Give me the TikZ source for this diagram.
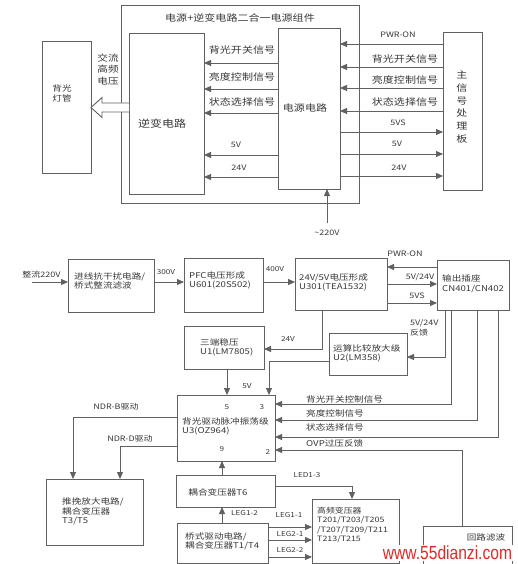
\documentclass[tikz,border=0pt]{standalone}
\usepackage{fontspec}
\setmainfont{Noto Sans CJK SC}[FakeStretch=1.2]
\newfontfamily\wmfont{Liberation Sans}
\usetikzlibrary{arrows.meta,fit}
\definecolor{lc}{gray}{0.38}
\definecolor{tc}{gray}{0.22}
\definecolor{wm}{RGB}{225,40,40}
\tikzset{
  box/.style={draw=lc, line width=0.9pt, inner sep=0pt, outer sep=0pt},
  ln/.style={draw=lc, line width=0.9pt},
  arr/.style={ln, -{Triangle[length=7pt,width=6pt]}},
  big/.style={text=tc, inner sep=0pt, font=\fontsize{9.2}{12}\selectfont},
  lat/.style={text=tc, inner sep=0pt, font=\fontsize{7.5}{9}\selectfont},
  sml/.style={text=tc, inner sep=0pt, font=\fontsize{8}{9.5}\selectfont, align=left},
  tiny/.style={text=tc, inner sep=0pt, font=\fontsize{6.8}{8}\selectfont},
}
\begin{document}
\begin{tikzpicture}[x=1pt,y=-1pt]
\useasboundingbox[fill=white] (0,0) rectangle (517,564);

% ---------------- top diagram ----------------
\node[box, fit={(121,5) (359,203)}] (outer) {};
\node[box, fit={(42,41) (91,173)}] (lamp) {};
\node[box, fit={(129,33) (204,194)}] (inv) {};
\node[box, fit={(278,28) (340,189)}] (pw) {};
\node[box, fit={(443,32) (482,190)}] (mb) {};

\node[big] (title) at (240,18) {电源+逆变电路二合一电源组件};
\node[text=tc, inner sep=0pt, align=center, font=\fontsize{8}{10}\selectfont] (lampT) at (62,93.5) {背光\\灯管};
\node[text=tc, inner sep=0pt, align=center, font=\fontsize{8.8}{11.7}\selectfont] (acT) at (108,69.5) {交流\\高频\\电压};
\node[text=tc, inner sep=0pt, font=\fontsize{10}{12}\selectfont] (invT) at (162,124) {逆变电路};
\node[big] (pwT) at (305,108) {电源电路};
\node[big, align=center, font=\fontsize{9.2}{12.8}\selectfont] (mbT) at (462,107) {主\\信\\号\\处\\理\\板};

% left signals
\node[big] (lA) at (242,50) {背光开关信号};
\node[big] (lB) at (242,77) {亮度控制信号};
\node[big] (lC) at (242,102) {状态选择信号};
\node[lat] (lD) at (236,145) {5V};
\node[lat] (lE) at (239,168) {24V};
\foreach \yy in {63,89,113,155,177}
  \draw[arr] (pw.west |- 0,\yy) -- (inv.east |- 0,\yy);

% right signals
\node[lat] (rA) at (398,35) {PWR-ON};
\node[big] (rB) at (405,59) {背光开关信号};
\node[big] (rC) at (405,80) {亮度控制信号};
\node[big] (rD) at (405,102) {状态选择信号};
\node[lat] (rE) at (398,123) {5VS};
\node[lat] (rF) at (397,144) {5V};
\node[lat] (rG) at (399,168) {24V};
\foreach \yy in {44,67,88,111}
  \draw[arr] (mb.west |- 0,\yy) -- (pw.east |- 0,\yy);
\foreach \yy in {132,154,176}
  \draw[arr] (pw.east |- 0,\yy) -- (mb.west |- 0,\yy);

\coordinate (ac) at (327,223);
\draw[arr] (ac) -- (pw.south -| ac);
\node[lat] (acL) at (327,233) {\textasciitilde 220V};

% hollow arrow to lamp
\draw[ln, fill=white, line join=miter] (inv.west |- 0,103) -- (102,103) -- (102,97.5)
  -- (lamp.east |- 0,107.5) -- (102,117.5) -- (102,112) -- (inv.west |- 0,112);

% ---------------- bottom diagram ----------------
\node[box, fit={(68,259) (154,312)}] (b1) {};
\node[box, fit={(184,258) (263,312)}] (pfc) {};
\node[box, fit={(295,258) (387,310)}] (b24) {};
\node[box, fit={(437,260) (509,310)}] (sock) {};
\node[box, fit={(184,326) (264,369)}] (reg) {};
\node[box, fit={(329,333) (407,375)}] (opa) {};
\node[box, fit={(177,395) (275,461)}] (drv) {};
\node[box, fit={(176,475) (275,507)}] (t6) {};
\node[box, fit={(177,523) (268,563)}] (bri) {};
\node[box, fit={(312,499) (399,563)}] (hf) {};
\node[box, fit={(46,479) (143,545)}] (push) {};
\node[box, fit={(423,526) (512,580)}] (loop) {};

% box texts
\node[sml, anchor=west] (b1T) at (74,281) {进线抗干扰电路/\\桥式整流滤波};
\node[sml, anchor=west] (pfcT) at (189,280.5) {PFC电压形成\\U601(20S502)};
\node[sml, anchor=west] (b24T) at (299,282.5) {24V/5V电压形成\\U301(TEA1532)};
\node[sml, anchor=west] (sockT) at (442,284) {输出插座\\CN401/CN402};
\node[sml, anchor=west] (regT) at (200,347.5) {三端稳压\\U1(LM7805)};
\node[sml, anchor=west] (opaT) at (333,353.5) {运算比较放大级\\U2(LM358)};
\node[sml, anchor=west] (drvT) at (182,426.5) {背光驱动脉冲振荡级\\U3(OZ964)};
\node[tiny] (p5) at (227,407) {5};
\node[tiny] (p3) at (262,407) {3};
\node[tiny] (p9) at (222,449) {9};
\node[tiny] (p2) at (268,452) {2};
\node[sml] (t6T) at (218,492) {耦合变压器T6};
\node[sml, anchor=west] (briT) at (185,541.5) {桥式驱动电路/\\耦合变压器T1/T4};
\node[sml, anchor=west, font=\fontsize{7.4}{9.4}\selectfont] (hfT) at (317,525) {高频变压器\\T201/T203/T205\\/T207/T209/T211\\T213/T215};
\node[sml, anchor=west] (pushT) at (62,511.5) {推挽放大电路/\\耦合变压器\\T3/T5};
\node[sml] (loopT) at (486,537) {回路滤波};

% input chain
\coordinate (in) at (32,282);
\node[lat] (inL) at (41.5,275) {整流220V};
\draw[arr] (in) -- (b1.west |- in);
\draw[arr] (b1.east |- 0,282) -- (pfc.west |- 0,282);
\node[tiny] (v300) at (166,272) {300V};
\draw[arr] (pfc.east |- 0,282) -- (b24.west |- 0,282);
\node[tiny] (v400) at (275,269) {400V};

% 24V box <-> socket
\draw[arr] (sock.west |- 0,267) -- (b24.east |- 0,267);
\node[lat] (pwrL) at (405,254) {PWR-ON};
\draw[arr] (b24.east |- 0,284) -- (sock.west |- 0,284);
\node[lat] (v524L) at (420,277) {5V/24V};
\draw[arr] (b24.east |- 0,303) -- (sock.west |- 0,303);
\node[lat] (v5vsL) at (417,296) {5VS};

% 24V to regulator
\draw[arr] (b24.south -| 322,0) |- (reg.east |- 0,349);
\node[tiny] (v24L) at (288,339) {24V};
% 5V to driver
\draw[arr] (reg.south -| 227,0) -- (drv.north -| 227,0);
\node[tiny] (v5L) at (247,386) {5V};
% op-amp to pin 3
\draw[arr] (opa.west |- 0,361) -| (drv.north -| 269,0);

% socket feedback lines
\draw[arr] (sock.south -| 445,0) |- (opa.east |- 0,357);
\node[lat, align=left, anchor=west, font=\fontsize{7.5}{10}\selectfont] (fbL) at (410,328) {5V/24V\\反馈};
\draw[arr] (sock.south -| 451,0) |- (drv.east |- 0,404);
\draw[arr] (sock.south -| 477,0) |- (drv.east |- 0,420);
\draw[arr] (sock.south -| 498,0) |- (drv.east |- 0,437);
\draw[arr] (loop.north -| 462,0) |- (drv.east |- 0,450);
\node[sml, anchor=west] (sA) at (306,399) {背光开关控制信号};
\node[sml, anchor=west] (sB) at (306,413) {亮度控制信号};
\node[sml, anchor=west] (sC) at (306,427) {状态选择信号};
\node[sml, anchor=west] (sD) at (306,443) {OVP过压反馈};

% driver to push-pull
\draw[arr] (drv.west |- 0,417) -| (push.north -| 73,0);
\draw[arr] (drv.west |- 0,446) -| (push.north -| 120,0);
\node[lat] (ndrB) at (116,407) {NDR-B驱动};
\node[lat] (ndrD) at (130,439) {NDR-D驱动};

% transformers
\draw[arr] (t6.north -| 222,0) -- (drv.south -| 222,0);
\draw[arr] (bri.north -| 222,0) -- (t6.south -| 222,0);
\node[tiny, anchor=west] (leg12) at (231,513) {LEG1-2};
\draw[arr] (t6.east |- 0,486) -| (hf.north -| 352,0);
\node[tiny] (led13) at (307,475) {LED1-3};
\draw[arr] (bri.east |- 0,527) -- (hf.west |- 0,527);
\draw[arr] (bri.east |- 0,540) -- (hf.west |- 0,540);
\draw[arr] (bri.east |- 0,557) -- (hf.west |- 0,557);
\node[tiny] (leg11) at (289,515) {LEG1-1};
\node[tiny] (leg21) at (290,534) {LEG2-1};
\node[tiny] (leg22) at (290,550) {LEG2-2};

% watermark
\node[fill=white, inner sep=1pt, text=wm] (wmk) at (447.5,553)
  {\scalebox{0.82}[1]{\wmfont\fontsize{19}{19}\selectfont www.55dianzi.com}};
\end{tikzpicture}
\end{document}
